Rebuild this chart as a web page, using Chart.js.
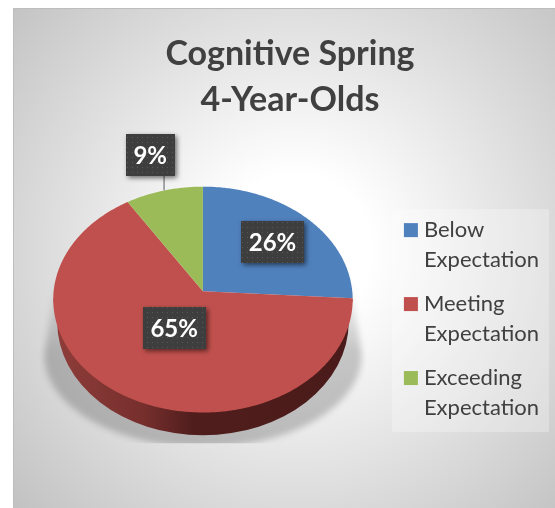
<!DOCTYPE html>
<html>
<head>
<meta charset="utf-8">
<style>
  html, body { margin: 0; padding: 0; background: #fff; }
  canvas { display: block; }
</style>
<script src="https://cdn.jsdelivr.net/npm/chart.js"></script>
</head>
<body>
<canvas id="myChart" width="555" height="508"></canvas>
<script>
// data
const titleLines = ['Cognitive Spring', '4-Year-Olds'];
const categories = [['Below', 'Expectation'], ['Meeting', 'Expectation'], ['Exceeding', 'Expectation']];
const values = [26, 65, 9];
const colors = ['#4f81bd', '#c0504d', '#9bbb59'];
// how far out each label sits, as a share of the radius
const labelRadius = [0.66, 0.37, 1.39];

const PERSPECTIVE = -0.0738;
const TILT = 0.75;
const PIE_SHIFT = -9.5; // title is centred on the whole panel, pie sits left of its area centre

// circle point -> tilted pie, near edge gets bigger
function project(arc, u, v) {
  const w = 1 + PERSPECTIVE * v;
  return {
    x: arc.x + PIE_SHIFT + arc.outerRadius * 0.997 * u / w,
    y: arc.y + arc.outerRadius * TILT * v / w
  };
}

function drawBackground(ctx) {
  const g = ctx.createRadialGradient(295, 250, 0, 295, 250, 380);
  g.addColorStop(0.2, '#ffffff');
  g.addColorStop(1, '#c2c2c2');
  ctx.fillStyle = g;
  ctx.fillRect(13, 8, 542, 500);
  ctx.fillStyle = '#bdbdbd';
  ctx.fillRect(13, 8, 542, 1);
  ctx.fillRect(13, 8, 1, 500);
}

function drawShadow(ctx, arc) {
  const r = arc.outerRadius;
  const cx = arc.x + PIE_SHIFT;
  ctx.save();
  ctx.beginPath();
  ctx.rect(cx - r - 14, arc.y - 15, 2 * r + 28, 167);
  ctx.clip();
  const g = ctx.createLinearGradient(0, arc.y - 10, 0, arc.y + 60);
  g.addColorStop(0, 'rgba(0,0,0,0.02)');
  g.addColorStop(1, 'rgba(0,0,0,0.2)');
  ctx.fillStyle = g;
  ctx.filter = 'blur(3px)';
  ctx.beginPath();
  ctx.moveTo(cx - r + 2, arc.y - 10);
  ctx.lineTo(cx - r - 9, arc.y + 64);
  ctx.ellipse(cx, arc.y + 64, r + 9, 92, 0, Math.PI, 0, true);
  ctx.lineTo(cx + r - 2, arc.y - 10);
  ctx.closePath();
  ctx.fill();
  ctx.restore();
}

function drawWall(ctx, arc) {
  const r = arc.outerRadius;
  const cx = arc.x + PIE_SHIFT;
  const g = ctx.createLinearGradient(cx - r, 0, cx + r, 0);
  g.addColorStop(0, '#8f3d3a');
  g.addColorStop(0.3, '#762f2d');
  g.addColorStop(0.47, '#4f1d1c');
  g.addColorStop(1, '#4a1b1a');
  ctx.fillStyle = g;
  ctx.beginPath();
  ctx.moveTo(cx - r, arc.y + 8);
  ctx.lineTo(cx - r + 4, arc.y + 31);
  ctx.ellipse(cx, arc.y + 31, r - 4, 113, 0, Math.PI, 0, true);
  ctx.lineTo(cx + r, arc.y + 8);
  ctx.closePath();
  ctx.fill();
}

function drawSlice(ctx, arc, color) {
  ctx.fillStyle = color;
  ctx.beginPath();
  const start = project(arc, 0, 0);
  ctx.moveTo(start.x, start.y);
  const steps = Math.ceil((arc.endAngle - arc.startAngle) * 90);
  for (let i = 0; i <= steps; i++) {
    const a = arc.startAngle + (arc.endAngle - arc.startAngle) * i / steps;
    const p = project(arc, Math.cos(a), Math.sin(a));
    ctx.lineTo(p.x, p.y);
  }
  ctx.closePath();
  ctx.fill();
}

function dotPattern(ctx) {
  const c = document.createElement('canvas');
  c.width = 5;
  c.height = 5;
  const t = c.getContext('2d');
  t.fillStyle = '#3e3e3e';
  t.fillRect(0, 0, 5, 5);
  t.fillStyle = '#585858';
  t.fillRect(2, 2, 1, 1);
  return ctx.createPattern(c, 'repeat');
}

function drawLabel(ctx, arc, i, pattern) {
  const mid = (arc.startAngle + arc.endAngle) / 2;
  const rho = labelRadius[i];
  const p = project(arc, rho * Math.cos(mid), rho * Math.sin(mid));
  const text = values[i] + '%';
  ctx.font = 'bold 24px Lato';
  const w = Math.round(ctx.measureText(text).width) + 15;
  const h = 42;
  // leader line for labels outside the pie
  if (rho > 1) {
    const edge = project(arc, Math.cos(mid), Math.sin(mid));
    ctx.strokeStyle = '#8c8c8c';
    ctx.lineWidth = 1.5;
    ctx.beginPath();
    ctx.moveTo(edge.x, edge.y);
    ctx.lineTo(edge.x, p.y + h / 2);
    ctx.stroke();
  }
  ctx.save();
  ctx.shadowColor = 'rgba(0,0,0,0.55)';
  ctx.shadowBlur = 5;
  ctx.shadowOffsetX = 2;
  ctx.shadowOffsetY = 2;
  ctx.fillStyle = pattern;
  ctx.fillRect(Math.round(p.x - w / 2), Math.round(p.y - h / 2), w, h);
  ctx.restore();
  ctx.fillStyle = '#ffffff';
  ctx.textAlign = 'center';
  ctx.textBaseline = 'middle';
  ctx.fillText(text, p.x, p.y + 1);
}

const pie3d = {
  id: 'pie3d',
  beforeDraw(chart) {
    const ctx = chart.ctx;
    ctx.save();
    drawBackground(ctx);
    // panel behind the legend
    const lg = chart.legend;
    ctx.fillStyle = 'rgba(255,255,255,0.28)';
    ctx.fillRect(392, lg.legendHitBoxes[0].top - 10, 157, 223);
    ctx.restore();
  },
  beforeDatasetDraw(chart, args) {
    const ctx = chart.ctx;
    const arcs = args.meta.data;
    ctx.save();
    drawShadow(ctx, arcs[0]);
    drawWall(ctx, arcs[0]);
    arcs.forEach((arc, i) => drawSlice(ctx, arc, colors[i]));
    ctx.restore();
    return false; // slices are already painted, tilted
  },
  afterDraw(chart) {
    const ctx = chart.ctx;
    const arcs = chart.getDatasetMeta(0).data;
    const pattern = dotPattern(ctx);
    ctx.save();
    arcs.forEach((arc, i) => drawLabel(ctx, arc, i, pattern));
    ctx.restore();
  }
};

new Chart(document.getElementById('myChart'), {
  type: 'pie',
  plugins: [pie3d],
  data: {
    labels: categories,
    datasets: [{
      data: values,
      backgroundColor: colors,
      borderWidth: 0
    }]
  },
  options: {
    responsive: false,
    animation: false,
    layout: { padding: { left: 31, right: 6, top: 8, bottom: 67 } },
    plugins: {
      tooltip: { enabled: false },
      title: {
        display: true,
        text: titleLines,
        color: '#404040',
        font: { family: 'Lato', size: 34, weight: 'bold', lineHeight: 1.35 },
        padding: { top: 23.5, bottom: 18.2 }
      },
      legend: {
        position: 'right',
        align: 'end',
        onClick: null,
        labels: {
          color: '#404040',
          font: { family: 'Lato', size: 22, lineHeight: 1.34 },
          boxWidth: 4,
          boxHeight: 4,
          padding: 15,
          generateLabels() {
            return categories.map((text, i) => ({
              text: text,
              fillStyle: colors[i],
              strokeStyle: colors[i],
              lineWidth: 10,
              fontColor: '#404040',
              index: i
            }));
          }
        }
      }
    }
  }
});
</script>
</body>
</html>
